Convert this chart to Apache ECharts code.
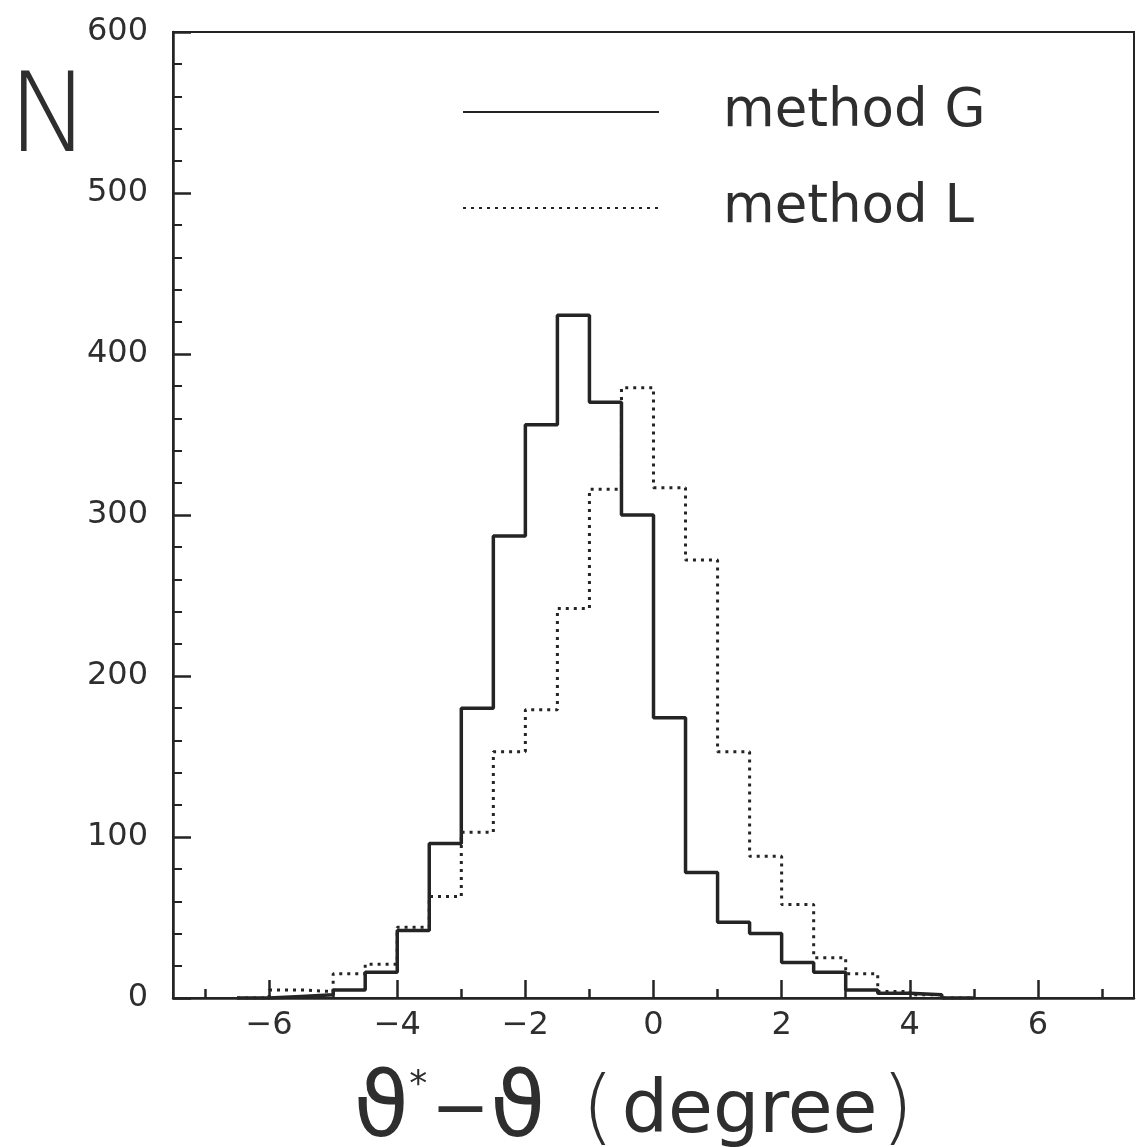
<!DOCTYPE html>
<html>
<head>
<meta charset="utf-8">
<script src="https://cdn.jsdelivr.net/npm/echarts@6/dist/echarts.min.js"></script>
<style>
  html, body { margin: 0; padding: 0; background: #ffffff; }
  #chart { width: 1139px; height: 1147px; }
</style>
</head>
<body>
<div id="chart"></div>
<script>
// ---- data ----
const binStarts = [-6.5, -6, -5.5, -5, -4.5, -4, -3.5, -3, -2.5, -2, -1.5, -1, -0.5, 0, 0.5, 1, 1.5, 2, 2.5, 3, 3.5, 4, 4.5];
const binWidth = 0.5;
const methodG = [0, 1, 2, 5, 16, 42, 96, 180, 287, 356, 424, 370, 300, 174, 78, 47, 40, 22, 16, 5, 3, 2, 0];
const methodL = [0, 5, 4, 15, 21, 44, 63, 103, 153, 179, 242, 316, 379, 317, 272, 153, 88, 58, 25, 15, 4, 2, 0];
const xMajorTicks = [-6, -4, -2, 0, 2, 4, 6];
const xMinorTicks = [-7, -5, -3, -1, 1, 3, 5, 7];
const seriesNames = ['method G', 'method L'];

function stepData(counts) {
  const d = binStarts.map((x, i) => [x, counts[i]]);
  d.push([binStarts[binStarts.length - 1] + binWidth, 0]);
  return d;
}

const FONT = 'DejaVu Sans';
const INK = '#242424';
const TXT = '#2e2e2e';

const chart = echarts.init(document.getElementById('chart'), null, { renderer: 'canvas' });
chart.setOption({
  backgroundColor: '#ffffff',
  animation: false,
  grid: {
    left: 173, right: 5, top: 32, bottom: 149,
    outerBoundsMode: 'none', containLabel: false,
    show: true, borderColor: INK, borderWidth: 2, backgroundColor: 'transparent'
  },
  legend: {
    orient: 'vertical',
    left: 462, top: 82, padding: 0,
    itemWidth: 196, itemHeight: 14, itemGap: 36,
    data: seriesNames,
    itemStyle: { color: 'transparent', borderColor: 'transparent', borderWidth: 0, opacity: 0 },
    textStyle: { fontFamily: FONT, fontSize: 53, color: TXT, lineHeight: 60, padding: [0, 0, 0, 59] }
  },
  xAxis: [{
    type: 'value', min: -7.5, max: 7.5, position: 'bottom',
    axisLine: { show: true, onZero: false, lineStyle: { color: INK, width: 2.5 } },
    axisTick: { show: true, inside: true, length: 18, customValues: xMajorTicks, lineStyle: { color: INK, width: 2.5 } },
    axisLabel: {
      show: true, customValues: xMajorTicks, margin: 12,
      fontFamily: FONT, fontSize: 32, color: TXT,
      formatter: v => String(v).replace('-', '\u2212')
    },
    splitLine: { show: false },
    name: '{v|\u03D1}{s|*}{m|\u2212}{v|\u03D1}{po|(}{t|degree}{pc|)}',
    nameLocation: 'middle', nameGap: 70,
    nameTextStyle: {
      padding: [0, 40, 0, 0],
      rich: {
        v: { fontFamily: FONT, fontSize: 90, color: TXT },
        s: { fontFamily: FONT, fontSize: 36, color: TXT, verticalAlign: 'top', padding: [0, 4, 40, 0] },
        m: { fontFamily: FONT, fontSize: 70, color: TXT },
        po: { fontFamily: FONT, fontSize: 82, fontWeight: 'lighter', color: TXT, padding: [0, 8, 0, 36] },
        pc: { fontFamily: FONT, fontSize: 82, fontWeight: 'lighter', color: TXT, padding: [0, 0, 0, 4] },
        t: { fontFamily: FONT, fontSize: 73, color: TXT }
      }
    }
  }, {
    type: 'value', min: -7.5, max: 7.5, position: 'bottom',
    axisLine: { show: false, onZero: false },
    axisTick: { show: true, inside: true, length: 9, customValues: xMinorTicks, lineStyle: { color: INK, width: 2.5 } },
    axisLabel: { show: false },
    splitLine: { show: false }
  }],
  yAxis: {
    type: 'value', min: 0, max: 600, interval: 100,
    axisLine: { show: true, onZero: false, lineStyle: { color: INK, width: 2.5 } },
    axisTick: { show: true, inside: true, length: 18, lineStyle: { color: INK, width: 2.5 } },
    minorTick: { show: true, splitNumber: 5, length: 9, lineStyle: { color: INK, width: 2 } },
    axisLabel: { margin: 25, fontFamily: FONT, fontSize: 32, color: TXT },
    splitLine: { show: false },
    name: 'N', nameLocation: 'end', nameGap: -156,
    nameTextStyle: { fontFamily: FONT, fontSize: 110, fontWeight: 'lighter', color: TXT, align: 'right', verticalAlign: 'bottom', padding: [0, 83, 0, 0] }
  },
  series: [{
    name: seriesNames[0], type: 'line', step: 'end', xAxisIndex: 0,
    data: stepData(methodG), symbol: 'none', showSymbol: false,
    lineStyle: { color: INK, width: 3.5, type: 'solid' },
    itemStyle: { color: INK }, z: 3
  }, {
    name: seriesNames[1], type: 'line', step: 'end', xAxisIndex: 0,
    data: stepData(methodL), symbol: 'none', showSymbol: false,
    lineStyle: { color: INK, width: 3, type: [3, 5], cap: 'butt' },
    itemStyle: { color: INK }, z: 2
  }]
});
</script>
</body>
</html>
